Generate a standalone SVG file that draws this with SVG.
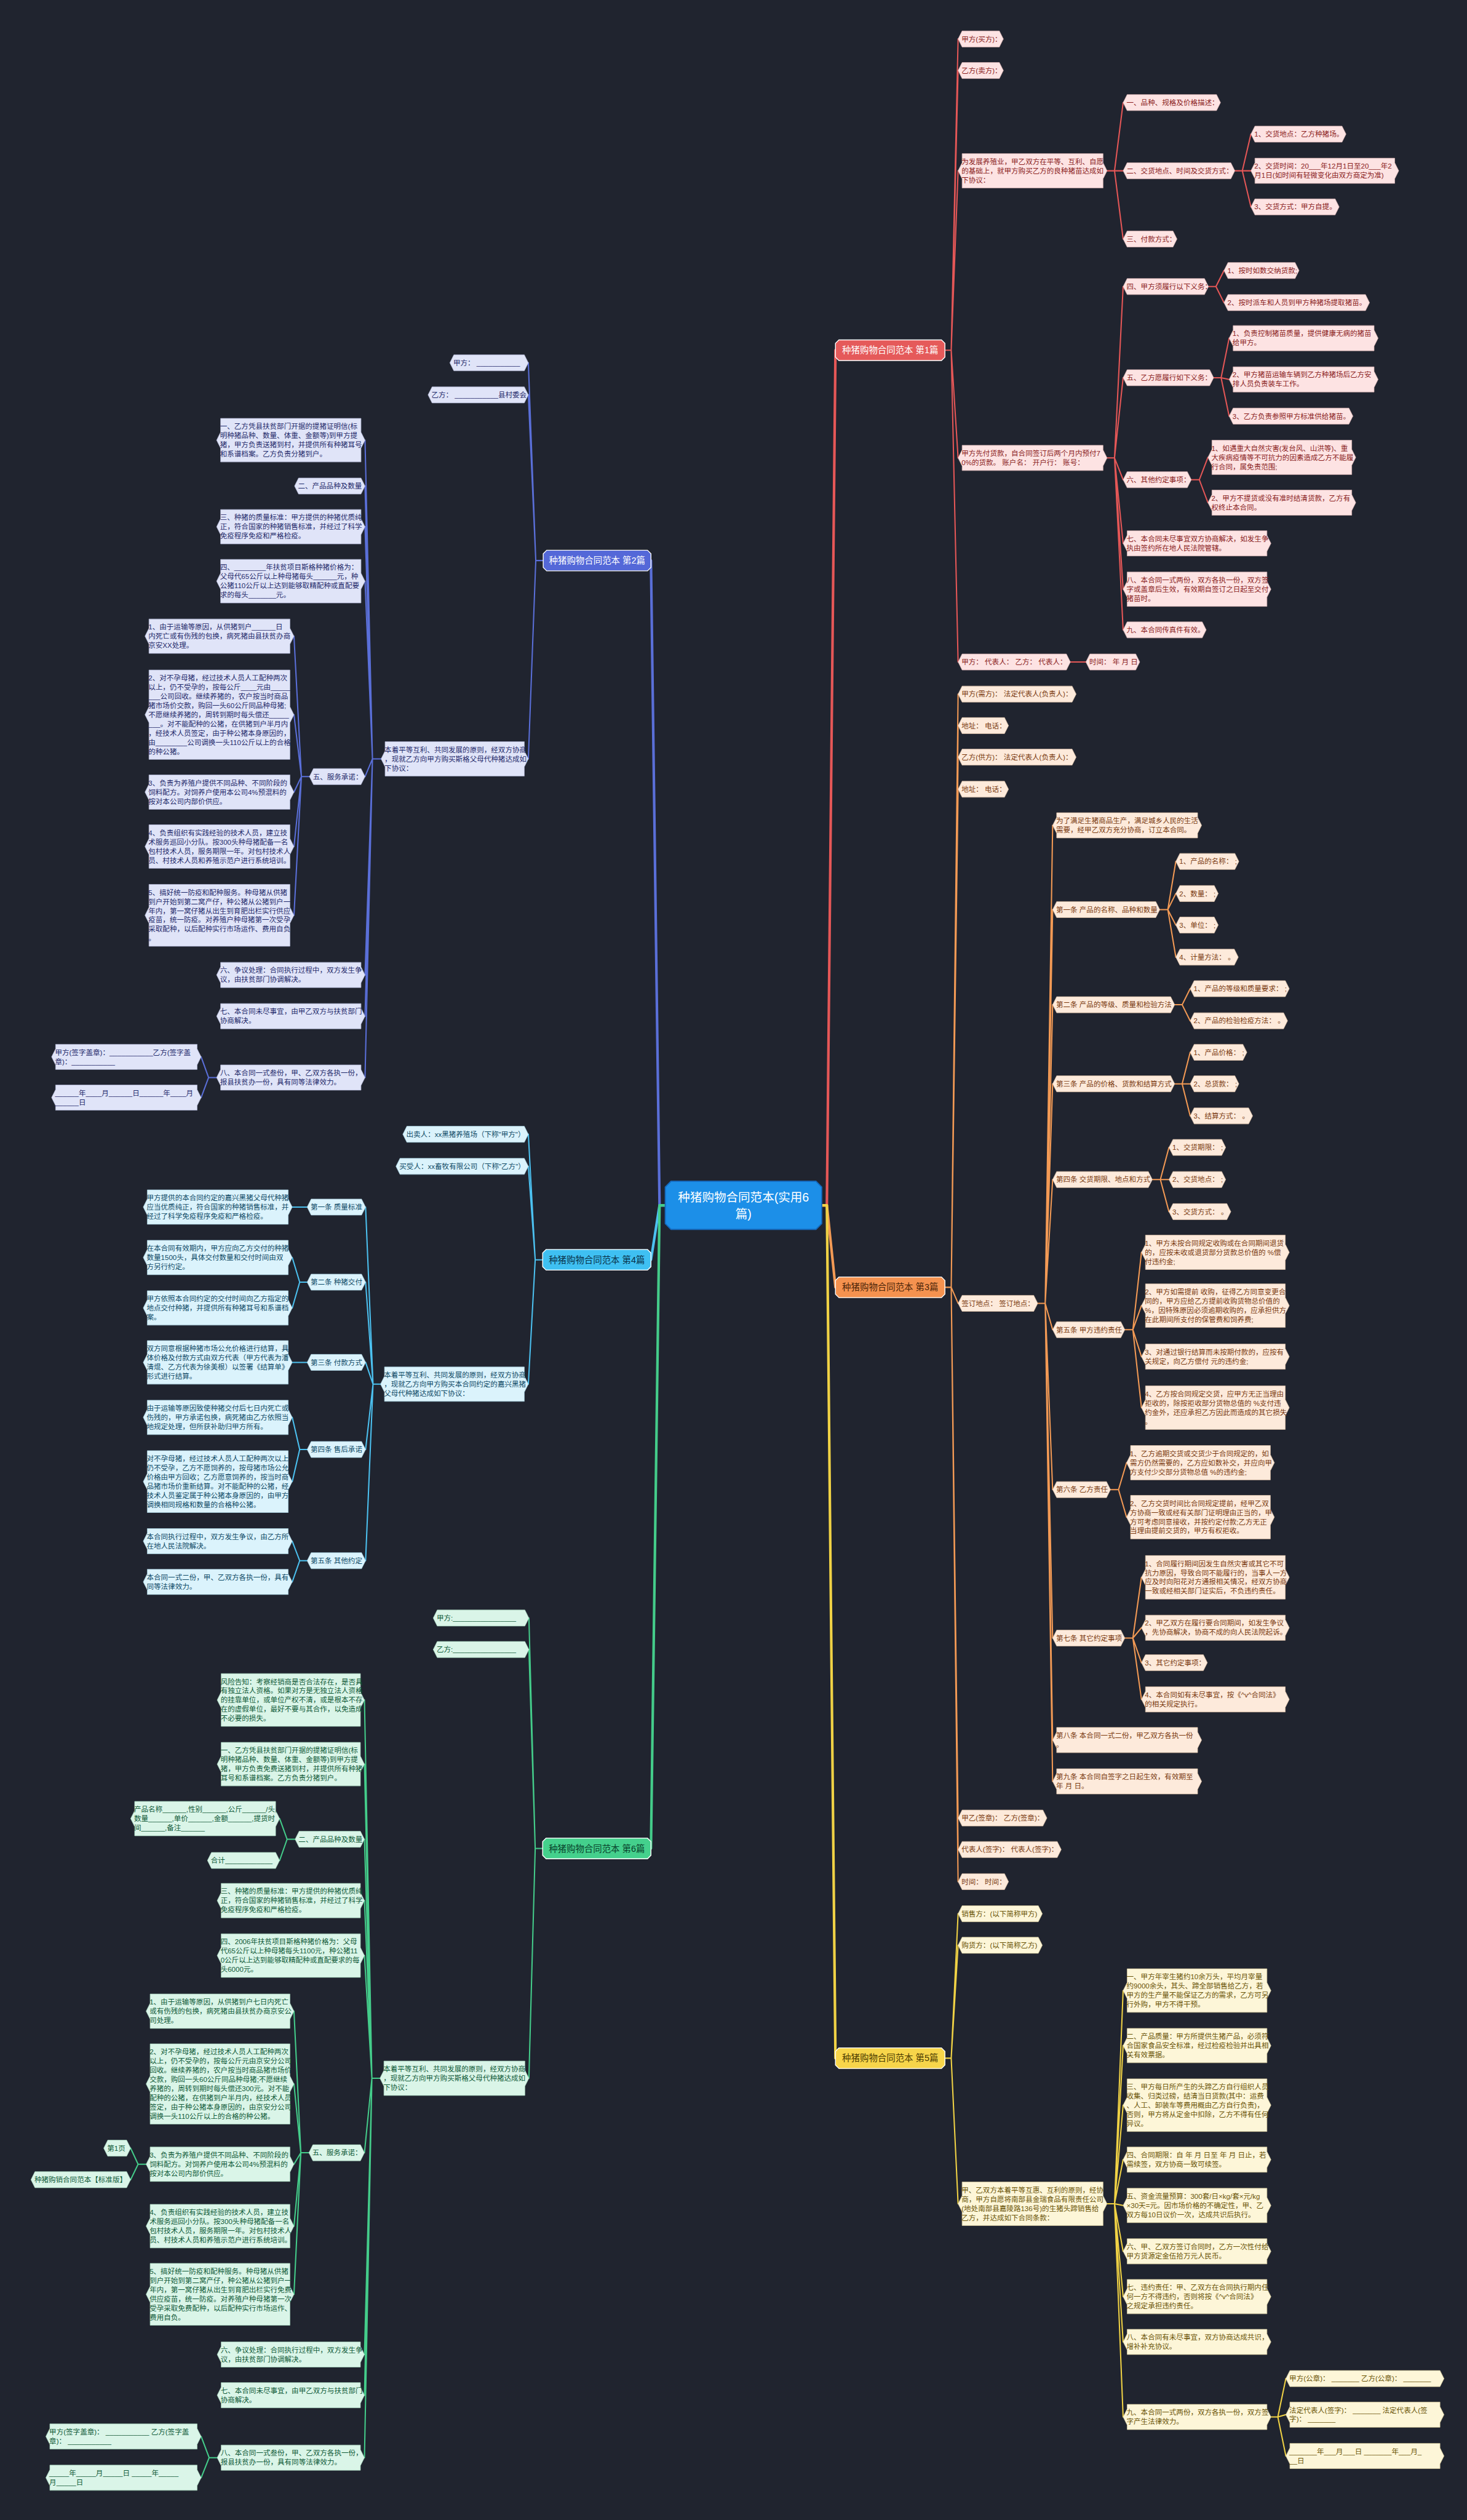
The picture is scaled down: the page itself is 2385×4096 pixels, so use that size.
<svg xmlns="http://www.w3.org/2000/svg" width="2385" height="4096" viewBox="0 0 2385 4096">
<style>
text{font-family:'Liberation Sans','Noto Sans CJK SC',sans-serif;font-size:12.4px}
.nd polygon{stroke-width:0.8}
.r polygon{fill:#fde3e3;stroke:#d9b3b3}.r text{fill:#8b1c1c}
.o polygon{fill:#fdeadb;stroke:#dcbfa6}.o text{fill:#7a3a10}
.y polygon{fill:#fdf6d8;stroke:#d8cc9c}.y text{fill:#6a5406}
.p polygon{fill:#e0e4f8;stroke:#b3b9d8}.p text{fill:#1f2a6b}
.b polygon{fill:#dbf3fc;stroke:#a9d2e2}.b text{fill:#0e4a66}
.g polygon{fill:#daf5e8;stroke:#a8d8c0}.g text{fill:#0f5a38}
.rt polygon{stroke:#ffffff;stroke-width:1.5}
.rt text{font-size:15.5px;text-anchor:middle}
.c{fill:none;stroke-width:2.2;stroke-linejoin:round;stroke-linecap:round}
.tr{stroke-width:4.5}
.cr{stroke:#e55757}.co{stroke:#f39a55}.cy{stroke:#f0d245}.cp{stroke:#5a6fd8}.cb{stroke:#4cc1f0}.cg{stroke:#44cc8a}
</style>
<rect width="2385" height="4096" fill="#20242f"/>
<g transform="scale(0.9316)">
<g id="connectors">
<path class="c cr tr" d="M1434,2103H1443L1458,611"/>
<path class="c co tr" d="M1434,2103H1443L1458,2246"/>
<path class="c cy tr" d="M1434,2103H1443L1458,3591"/>
<path class="c cp tr" d="M1161,2103H1151L1136,978"/>
<path class="c cb tr" d="M1161,2103H1151L1136,2198"/>
<path class="c cg tr" d="M1161,2103H1151L1136,3225"/>
<path class="c cr" d="M1649,611H1660L1672,68M1660,611L1672,123M1660,611L1672,298M1660,611L1672,799M1660,611L1672,1155M1932,298H1945L1960,179M1945,298L1960,298M1945,298L1960,417M2155,298H2168L2183,234M2168,298L2183,298M2168,298L2183,361M1932,799H1945L1960,500M1945,799L1960,659M1945,799L1960,837M1945,799L1960,948M1945,799L1960,1028M1945,799L1960,1099M2109,500H2122L2136,472M2122,500L2136,528M2118,659H2131L2145,590M2131,659L2145,662M2131,659L2145,726M2079,837H2093L2108,798M2093,837L2108,877M1868,1155H1895"/>
<path class="c co" d="M1649,2246H1660L1672,1211M1660,2246L1672,1266M1660,2246L1672,1321M1660,2246L1672,1377M1660,2246L1672,2274M1660,2246L1672,3172M1660,2246L1672,3227M1660,2246L1672,3283M1811,2274H1824L1837,1440M1824,2274L1837,1587M1824,2274L1837,1753M1824,2274L1837,1891M1824,2274L1837,2058M1824,2274L1837,2320M1824,2274L1837,2599M1824,2274L1837,2858M1824,2274L1837,3036M1824,2274L1837,3108M2024,1587H2038L2052,1503M2038,1587L2052,1559M2038,1587L2052,1614M2038,1587L2052,1670M2050,1753H2063L2077,1725M2063,1753L2077,1781M2050,1891H2063L2077,1836M2063,1891L2077,1891M2063,1891L2077,1947M2011,2058H2025L2040,2002M2025,2058L2040,2058M2025,2058L2040,2114M1963,2320H1977L1992,2185M1977,2320L1992,2278M1977,2320L1992,2367M1977,2320L1992,2456M1938,2599H1952L1966,2552M1952,2599L1966,2647M1963,2858H1977L1992,2752M1977,2858L1992,2840M1977,2858L1992,2901M1977,2858L1992,2965"/>
<path class="c cy" d="M1649,3591H1660L1672,3339M1660,3591L1672,3394M1660,3591L1672,3845M1932,3845H1945L1960,3473M1945,3845L1960,3569M1945,3845L1960,3673M1945,3845L1960,3768M1945,3845L1960,3848M1945,3845L1960,3928M1945,3845L1960,4007M1945,3845L1960,4086M1945,3845L1960,4217M2218,4217H2230L2244,4150M2230,4217L2244,4213M2230,4217L2244,4285"/>
<path class="c cp" d="M948,978H935L922,633M935,978L922,689M935,978L922,1324M665,1324H650L637,768M650,1324L637,848M650,1324L637,919M650,1324L637,1014M650,1324L637,1355M650,1324L637,1701M650,1324L637,1773M650,1324L637,1880M540,1355H526L513,1110M526,1355L513,1247M526,1355L513,1382M526,1355L513,1477M526,1355L513,1597M378,1880H364L351,1844M364,1880L351,1915"/>
<path class="c cb" d="M947,2198H934L922,1979M934,2198L922,2035M934,2198L922,2415M664,2415H651L638,2106M651,2415L638,2237M651,2415L638,2377M651,2415L638,2529M651,2415L638,2723M536,2106H510M536,2237H523L510,2194M523,2237L510,2282M536,2377H510M536,2529H523L510,2473M523,2529L510,2585M536,2723H523L510,2689M523,2723L510,2760"/>
<path class="c cg" d="M947,3225H934L923,2823M934,3225L923,2878M934,3225L923,3626M663,3626H649L636,2966M649,3626L636,3078M649,3626L636,3209M649,3626L636,3316M649,3626L636,3412M649,3626L636,3756M649,3626L636,4108M649,3626L636,4179M649,3626L636,4288M515,3209H501L488,3173M501,3209L488,3246M539,3756H525L513,3509M525,3756L513,3636M525,3756L513,3776M525,3756L513,3884M525,3756L513,4003M255,3776H241L228,3748M241,3776L228,3803M379,4288H365L351,4251M365,4288L351,4323"/>
</g>

<g id="center">
<polygon points="1171,2061 1424,2061 1434,2071 1434,2135 1424,2145 1171,2145 1161,2135 1161,2071" fill="#1c8fe8" stroke="#1569bd" stroke-width="2"/>
<text x="1297.5" y="2096" font-size="21" fill="#ffffff" text-anchor="middle" style="font-size:21px">种猪购物合同范本(实用6<tspan x="1297.5" dy="29">篇)</tspan></text>
</g>

<!-- Branch 1 -->
<g id="root1" class="rt"><polygon points="1464,593 1643,593 1649,599 1649,623 1643,629 1464,629 1458,623 1458,599" fill="#e55a5a"/><text x="1553.5" y="616.5" fill="#ffffff">种猪购物合同范本 第1篇</text></g>
<g id="r1" class="nd r"><polygon points="1679,54 1744,54 1751,68 1744,82 1679,82 1672,68"/><text x="1678" y="72.5">甲方(买方)：</text></g>
<g id="r2" class="nd r"><polygon points="1679,109 1744,109 1751,123 1744,137 1679,137 1672,123"/><text x="1678" y="127.5">乙方(卖方)：</text></g>
<g id="r3" class="nd r"><polygon points="1679,268 1925,268 1925,284 1932,298 1925,312 1925,328 1679,328 1679,312 1672,298 1679,284"/><text x="1678" y="286.5">为发展养殖业，甲乙双方在平等、互利、自愿<tspan x="1678" dy="16">的基础上，就甲方购买乙方的良种猪苗达成如</tspan><tspan x="1678" dy="16">下协议：</tspan></text></g>
<g id="r4" class="nd r"><polygon points="1679,777 1925,777 1925,785 1932,799 1925,813 1925,821 1679,821 1679,813 1672,799 1679,785"/><text x="1678" y="795.5">甲方先付货款，自合同签订后两个月内预付7<tspan x="1678" dy="16">0%的货款。 账户名： 开户行： 账号：</tspan></text></g>
<g id="r5" class="nd r"><polygon points="1679,1141 1861,1141 1868,1155 1861,1169 1679,1169 1672,1155"/><text x="1678" y="1159.5">甲方： 代表人： 乙方： 代表人：</text></g>
<g id="r5a" class="nd r"><polygon points="1902,1141 1982,1141 1989,1155 1982,1169 1902,1169 1895,1155"/><text x="1901" y="1159.5">时间： 年 月 日</text></g>
<g id="r3a" class="nd r"><polygon points="1967,165 2123,165 2130,179 2123,193 1967,193 1960,179"/><text x="1966" y="183.5">一、品种、规格及价格描述：</text></g>
<g id="r3b" class="nd r"><polygon points="1967,284 2148,284 2155,298 2148,312 1967,312 1960,298"/><text x="1966" y="302.5">二、交货地点、时间及交货方式：</text></g>
<g id="r3c" class="nd r"><polygon points="1967,403 2047,403 2054,417 2047,431 1967,431 1960,417"/><text x="1966" y="421.5">三、付款方式：</text></g>
<g id="r3b1" class="nd r"><polygon points="2190,220 2342,220 2349,234 2342,248 2190,248 2183,234"/><text x="2189" y="238.5">1、交货地点：乙方种猪场。</text></g>
<g id="r3b2" class="nd r"><polygon points="2190,276 2434,276 2434,284 2441,298 2434,312 2434,320 2190,320 2190,312 2183,298 2190,284"/><text x="2189" y="294.5">2、交货时间：20___年12月1日至20___年2<tspan x="2189" dy="16">月1日(如时间有轻微变化由双方商定为准)</tspan></text></g>
<g id="r3b3" class="nd r"><polygon points="2190,347 2330,347 2337,361 2330,375 2190,375 2183,361"/><text x="2189" y="365.5">3、交货方式：甲方自提。</text></g>
<g id="r4a" class="nd r"><polygon points="1967,486 2102,486 2109,500 2102,514 1967,514 1960,500"/><text x="1966" y="504.5">四、甲方须履行以下义务：</text></g>
<g id="r4b" class="nd r"><polygon points="1967,645 2111,645 2118,659 2111,673 1967,673 1960,659"/><text x="1966" y="663.5">五、乙方愿履行如下义务：</text></g>
<g id="r4c" class="nd r"><polygon points="1967,823 2072,823 2079,837 2072,851 1967,851 1960,837"/><text x="1966" y="841.5">六、其他约定事项：</text></g>
<g id="r4d" class="nd r"><polygon points="1967,926 2211,926 2211,934 2218,948 2211,962 2211,970 1967,970 1967,962 1960,948 1967,934"/><text x="1966" y="944.5">七、本合同未尽事宜双方协商解决，如发生争<tspan x="1966" dy="16">执由签约所在地人民法院管辖。</tspan></text></g>
<g id="r4e" class="nd r"><polygon points="1967,998 2211,998 2211,1014 2218,1028 2211,1042 2211,1058 1967,1058 1967,1042 1960,1028 1967,1014"/><text x="1966" y="1016.5">八、本合同一式两份，双方各执一份，双方签<tspan x="1966" dy="16">字或盖章后生效，有效期自签订之日起至交付</tspan><tspan x="1966" dy="16">猪苗时。</tspan></text></g>
<g id="r4f" class="nd r"><polygon points="1967,1085 2098,1085 2105,1099 2098,1113 1967,1113 1960,1099"/><text x="1966" y="1103.5">九、本合同传真件有效。</text></g>
<g id="r4a1" class="nd r"><polygon points="2143,458 2260,458 2267,472 2260,486 2143,486 2136,472"/><text x="2142" y="476.5">1、按时如数交纳货款;</text></g>
<g id="r4a2" class="nd r"><polygon points="2143,514 2383,514 2390,528 2383,542 2143,542 2136,528"/><text x="2142" y="532.5">2、按时派车和人员到甲方种猪场提取猪苗。</text></g>
<g id="r4b1" class="nd r"><polygon points="2152,568 2398,568 2398,576 2405,590 2398,604 2398,612 2152,612 2152,604 2145,590 2152,576"/><text x="2151" y="586.5">1、负责控制猪苗质量，提供健康无病的猪苗<tspan x="2151" dy="16">给甲方。</tspan></text></g>
<g id="r4b2" class="nd r"><polygon points="2152,640 2398,640 2398,648 2405,662 2398,676 2398,684 2152,684 2152,676 2145,662 2152,648"/><text x="2151" y="658.5">2、甲方猪苗运输车辆到乙方种猪场后乙方安<tspan x="2151" dy="16">排人员负责装车工作。</tspan></text></g>
<g id="r4b3" class="nd r"><polygon points="2152,712 2354,712 2361,726 2354,740 2152,740 2145,726"/><text x="2151" y="730.5">3、乙方负责参照甲方标准供给猪苗。</text></g>
<g id="r4c1" class="nd r"><polygon points="2115,768 2359,768 2359,784 2366,798 2359,812 2359,828 2115,828 2115,812 2108,798 2115,784"/><text x="2114" y="786.5">1、如遇重大自然灾害(发台风、山洪等)、重<tspan x="2114" dy="16">大疾病疫情等不可抗力的因素造成乙方不能履</tspan><tspan x="2114" dy="16">行合同，属免责范围;</tspan></text></g>
<g id="r4c2" class="nd r"><polygon points="2115,855 2359,855 2359,863 2366,877 2359,891 2359,899 2115,899 2115,891 2108,877 2115,863"/><text x="2114" y="873.5">2、甲方不提货或没有准时结清货款，乙方有<tspan x="2114" dy="16">权终止本合同。</tspan></text></g>

<!-- Branch 3 -->
<g id="root3" class="rt"><polygon points="1464,2228 1643,2228 1649,2234 1649,2258 1643,2264 1464,2264 1458,2258 1458,2234" fill="#f5924f"/><text x="1553.5" y="2251.5" fill="#4a2408">种猪购物合同范本 第3篇</text></g>
<g id="o1" class="nd o"><polygon points="1679,1197 1871,1197 1878,1211 1871,1225 1679,1225 1672,1211"/><text x="1678" y="1215.5">甲方(需方)： 法定代表人(负责人)：</text></g>
<g id="o2" class="nd o"><polygon points="1679,1252 1753,1252 1760,1266 1753,1280 1679,1280 1672,1266"/><text x="1678" y="1270.5">地址： 电话：</text></g>
<g id="o3" class="nd o"><polygon points="1679,1307 1871,1307 1878,1321 1871,1335 1679,1335 1672,1321"/><text x="1678" y="1325.5">乙方(供方)： 法定代表人(负责人)：</text></g>
<g id="o4" class="nd o"><polygon points="1679,1363 1753,1363 1760,1377 1753,1391 1679,1391 1672,1377"/><text x="1678" y="1381.5">地址： 电话：</text></g>
<g id="o5" class="nd o"><polygon points="1679,2260 1804,2260 1811,2274 1804,2288 1679,2288 1672,2274"/><text x="1678" y="2278.5">签订地点： 签订地点：</text></g>
<g id="o6" class="nd o"><polygon points="1679,3158 1820,3158 1827,3172 1820,3186 1679,3186 1672,3172"/><text x="1678" y="3176.5">甲乙(签章)： 乙方(签章)：</text></g>
<g id="o7" class="nd o"><polygon points="1679,3213 1845,3213 1852,3227 1845,3241 1679,3241 1672,3227"/><text x="1678" y="3231.5">代表人(签字)： 代表人(签字)：</text></g>
<g id="o8" class="nd o"><polygon points="1679,3269 1753,3269 1760,3283 1753,3297 1679,3297 1672,3283"/><text x="1678" y="3287.5">时间： 时间：</text></g>
<g id="o5a" class="nd o"><polygon points="1844,1418 2090,1418 2090,1426 2097,1440 2090,1454 2090,1462 1844,1462 1844,1454 1837,1440 1844,1426"/><text x="1843" y="1436.5">为了满足生猪商品生产，满足城乡人民的生活<tspan x="1843" dy="16">需要，经甲乙双方充分协商，订立本合同。</tspan></text></g>
<g id="o5b" class="nd o"><polygon points="1844,1573 2017,1573 2024,1587 2017,1601 1844,1601 1837,1587"/><text x="1843" y="1591.5">第一条 产品的名称、品种和数量</text></g>
<g id="o5c" class="nd o"><polygon points="1844,1739 2043,1739 2050,1753 2043,1767 1844,1767 1837,1753"/><text x="1843" y="1757.5">第二条 产品的等级、质量和检验方法</text></g>
<g id="o5d" class="nd o"><polygon points="1844,1877 2043,1877 2050,1891 2043,1905 1844,1905 1837,1891"/><text x="1843" y="1895.5">第三条 产品的价格、货款和结算方式</text></g>
<g id="o5e" class="nd o"><polygon points="1844,2044 2004,2044 2011,2058 2004,2072 1844,2072 1837,2058"/><text x="1843" y="2062.5">第四条 交货期限、地点和方式</text></g>
<g id="o5f" class="nd o"><polygon points="1844,2306 1956,2306 1963,2320 1956,2334 1844,2334 1837,2320"/><text x="1843" y="2324.5">第五条 甲方违约责任</text></g>
<g id="o5g" class="nd o"><polygon points="1844,2585 1931,2585 1938,2599 1931,2613 1844,2613 1837,2599"/><text x="1843" y="2603.5">第六条 乙方责任</text></g>
<g id="o5h" class="nd o"><polygon points="1844,2844 1956,2844 1963,2858 1956,2872 1844,2872 1837,2858"/><text x="1843" y="2862.5">第七条 其它约定事项</text></g>
<g id="o5i" class="nd o"><polygon points="1844,3014 2090,3014 2090,3022 2097,3036 2090,3050 2090,3058 1844,3058 1844,3050 1837,3036 1844,3022"/><text x="1843" y="3032.5">第八条 本合同一式二份，甲乙双方各执一份<tspan x="1843" dy="16">。</tspan></text></g>
<g id="o5j" class="nd o"><polygon points="1844,3086 2090,3086 2090,3094 2097,3108 2090,3122 2090,3130 1844,3130 1844,3122 1837,3108 1844,3094"/><text x="1843" y="3104.5">第九条 本合同自签字之日起生效，有效期至<tspan x="1843" dy="16">年 月 日。</tspan></text></g>
<g id="o5b1" class="nd o"><polygon points="2059,1489 2155,1489 2162,1503 2155,1517 2059,1517 2052,1503"/><text x="2058" y="1507.5">1、产品的名称： ;</text></g>
<g id="o5b2" class="nd o"><polygon points="2059,1545 2119,1545 2126,1559 2119,1573 2059,1573 2052,1559"/><text x="2058" y="1563.5">2、数量： ;</text></g>
<g id="o5b3" class="nd o"><polygon points="2059,1600 2119,1600 2126,1614 2119,1628 2059,1628 2052,1614"/><text x="2058" y="1618.5">3、单位： ;</text></g>
<g id="o5b4" class="nd o"><polygon points="2059,1656 2154,1656 2161,1670 2154,1684 2059,1684 2052,1670"/><text x="2058" y="1674.5">4、计量方法： 。</text></g>
<g id="o5c1" class="nd o"><polygon points="2084,1711 2243,1711 2250,1725 2243,1739 2084,1739 2077,1725"/><text x="2083" y="1729.5">1、产品的等级和质量要求： ;</text></g>
<g id="o5c2" class="nd o"><polygon points="2084,1767 2240,1767 2247,1781 2240,1795 2084,1795 2077,1781"/><text x="2083" y="1785.5">2、产品的检验检疫方法： 。</text></g>
<g id="o5d1" class="nd o"><polygon points="2084,1822 2169,1822 2176,1836 2169,1850 2084,1850 2077,1836"/><text x="2083" y="1840.5">1、产品价格： ;</text></g>
<g id="o5d2" class="nd o"><polygon points="2084,1877 2155,1877 2162,1891 2155,1905 2084,1905 2077,1891"/><text x="2083" y="1895.5">2、总货款： ;</text></g>
<g id="o5d3" class="nd o"><polygon points="2084,1933 2179,1933 2186,1947 2179,1961 2084,1961 2077,1947"/><text x="2083" y="1951.5">3、结算方式： 。</text></g>
<g id="o5e1" class="nd o"><polygon points="2047,1988 2132,1988 2139,2002 2132,2016 2047,2016 2040,2002"/><text x="2046" y="2006.5">1、交货期限： ;</text></g>
<g id="o5e2" class="nd o"><polygon points="2047,2044 2132,2044 2139,2058 2132,2072 2047,2072 2040,2058"/><text x="2046" y="2062.5">2、交货地点： ;</text></g>
<g id="o5e3" class="nd o"><polygon points="2047,2100 2141,2100 2148,2114 2141,2128 2047,2128 2040,2114"/><text x="2046" y="2118.5">3、交货方式： 。</text></g>
<g id="o5f1" class="nd o"><polygon points="1999,2155 2243,2155 2243,2171 2250,2185 2243,2199 2243,2215 1999,2215 1999,2199 1992,2185 1999,2171"/><text x="1998" y="2173.5">1、甲方未按合同规定收购或在合同期间退货<tspan x="1998" dy="16">的，应按未收或退货部分货款总价值的 %偿</tspan><tspan x="1998" dy="16">付违约金;</tspan></text></g>
<g id="o5f2" class="nd o"><polygon points="1999,2240 2243,2240 2243,2264 2250,2278 2243,2292 2243,2316 1999,2316 1999,2292 1992,2278 1999,2264"/><text x="1998" y="2258.5">2、甲方如需提前 收购，征得乙方同意变更合<tspan x="1998" dy="16">同的，甲方应给乙方提前收购货物总价值的</tspan><tspan x="1998" dy="16">%，因特殊原因必须逾期收购的，应承担供方</tspan><tspan x="1998" dy="16">在此期间所支付的保管费和饲养费;</tspan></text></g>
<g id="o5f3" class="nd o"><polygon points="1999,2345 2243,2345 2243,2353 2250,2367 2243,2381 2243,2389 1999,2389 1999,2381 1992,2367 1999,2353"/><text x="1998" y="2363.5">3、对通过银行结算而未按期付款的，应按有<tspan x="1998" dy="16">关规定，向乙方偿付 元的违约金;</tspan></text></g>
<g id="o5f4" class="nd o"><polygon points="1999,2418 2243,2418 2243,2442 2250,2456 2243,2470 2243,2494 1999,2494 1999,2470 1992,2456 1999,2442"/><text x="1998" y="2436.5">4、乙方按合同规定交货，应甲方无正当理由<tspan x="1998" dy="16">拒收的，除按拒收部分货物总值的 %支付违</tspan><tspan x="1998" dy="16">约金外，还应承担乙方因此而造成的其它损失</tspan><tspan x="1998" dy="16">。</tspan></text></g>
<g id="o5g1" class="nd o"><polygon points="1973,2522 2217,2522 2217,2538 2224,2552 2217,2566 2217,2582 1973,2582 1973,2566 1966,2552 1973,2538"/><text x="1972" y="2540.5">1、乙方逾期交货或交货少于合同规定的，如<tspan x="1972" dy="16">需方仍然需要的，乙方应如数补交，并应向甲</tspan><tspan x="1972" dy="16">方支付少交部分货物总值 %的违约金;</tspan></text></g>
<g id="o5g2" class="nd o"><polygon points="1973,2609 2217,2609 2217,2633 2224,2647 2217,2661 2217,2685 1973,2685 1973,2661 1966,2647 1973,2633"/><text x="1972" y="2627.5">2、乙方交货时间比合同规定提前，经甲乙双<tspan x="1972" dy="16">方协商一致或经有关部门证明理由正当的，甲</tspan><tspan x="1972" dy="16">方可考虑同意接收，并按约定付款;乙方无正</tspan><tspan x="1972" dy="16">当理由提前交货的，甲方有权拒收。</tspan></text></g>
<g id="o5h1" class="nd o"><polygon points="1999,2714 2243,2714 2243,2738 2250,2752 2243,2766 2243,2790 1999,2790 1999,2766 1992,2752 1999,2738"/><text x="1998" y="2732.5">1、合同履行期间因发生自然灾害或其它不可<tspan x="1998" dy="16">抗力原因，导致合同不能履行的，当事人一方</tspan><tspan x="1998" dy="16">应及时向阳花对方通报相关情况，经双方协商</tspan><tspan x="1998" dy="16">一致或经相关部门证实后，不负违约责任。</tspan></text></g>
<g id="o5h2" class="nd o"><polygon points="1999,2818 2243,2818 2243,2826 2250,2840 2243,2854 2243,2862 1999,2862 1999,2854 1992,2840 1999,2826"/><text x="1998" y="2836.5">2、甲乙双方在履行要合同期间，如发生争议<tspan x="1998" dy="16">，先协商解决，协商不成的向人民法院起诉。</tspan></text></g>
<g id="o5h3" class="nd o"><polygon points="1999,2887 2100,2887 2107,2901 2100,2915 1999,2915 1992,2901"/><text x="1998" y="2905.5">3、其它约定事项：</text></g>
<g id="o5h4" class="nd o"><polygon points="1999,2943 2243,2943 2243,2951 2250,2965 2243,2979 2243,2987 1999,2987 1999,2979 1992,2965 1999,2951"/><text x="1998" y="2961.5">4、本合同如有未尽事宜，按《^v^合同法》<tspan x="1998" dy="16">的相关规定执行。</tspan></text></g>

<!-- Branch 5 -->
<g id="root5" class="rt"><polygon points="1464,3573 1643,3573 1649,3579 1649,3603 1643,3609 1464,3609 1458,3603 1458,3579" fill="#f7d54a"/><text x="1553.5" y="3596.5" fill="#4a3a00">种猪购物合同范本 第5篇</text></g>
<g id="y1" class="nd y"><polygon points="1679,3325 1812,3325 1819,3339 1812,3353 1679,3353 1672,3339"/><text x="1678" y="3343.5">销售方：(以下简称甲方)</text></g>
<g id="y2" class="nd y"><polygon points="1679,3380 1812,3380 1819,3394 1812,3408 1679,3408 1672,3394"/><text x="1678" y="3398.5">购货方：(以下简称乙方)</text></g>
<g id="y3" class="nd y"><polygon points="1679,3807 1925,3807 1925,3831 1932,3845 1925,3859 1925,3883 1679,3883 1679,3859 1672,3845 1679,3831"/><text x="1678" y="3825.5">甲、乙双方本着平等互惠、互利的原则，经协<tspan x="1678" dy="16">商，甲方自愿将南部县金瑞食品有限责任公司</tspan><tspan x="1678" dy="16">(地处南部县嘉陵路136号)的生猪头蹄销售给</tspan><tspan x="1678" dy="16">乙方，并达成如下合同条款：</tspan></text></g>
<g id="y3a" class="nd y"><polygon points="1967,3435 2211,3435 2211,3459 2218,3473 2211,3487 2211,3511 1967,3511 1967,3487 1960,3473 1967,3459"/><text x="1966" y="3453.5">一、甲方年宰生猪约10余万头，平均月宰量<tspan x="1966" dy="16">约9000余头，其头、蹄全部销售给乙方，若</tspan><tspan x="1966" dy="16">甲方的生产量不能保证乙方的需求，乙方可另</tspan><tspan x="1966" dy="16">行外购，甲方不得干预。</tspan></text></g>
<g id="y3b" class="nd y"><polygon points="1967,3539 2211,3539 2211,3555 2218,3569 2211,3583 2211,3599 1967,3599 1967,3583 1960,3569 1967,3555"/><text x="1966" y="3557.5">二、产品质量：甲方所提供生猪产品，必须符<tspan x="1966" dy="16">合国家食品安全标准，经过检疫检验并出具相</tspan><tspan x="1966" dy="16">关有效票据。</tspan></text></g>
<g id="y3c" class="nd y"><polygon points="1967,3627 2211,3627 2211,3659 2218,3673 2211,3687 2211,3719 1967,3719 1967,3687 1960,3673 1967,3659"/><text x="1966" y="3645.5">三、甲方每日所产生的头蹄乙方自行组织人员<tspan x="1966" dy="16">收集、归类过磅，结清当日货款(其中：运费</tspan><tspan x="1966" dy="16">、人工、卸装车等费用概由乙方自行负责)，</tspan><tspan x="1966" dy="16">否则，甲方将从定金中扣除，乙方不得有任何</tspan><tspan x="1966" dy="16">异议。</tspan></text></g>
<g id="y3d" class="nd y"><polygon points="1967,3746 2211,3746 2211,3754 2218,3768 2211,3782 2211,3790 1967,3790 1967,3782 1960,3768 1967,3754"/><text x="1966" y="3764.5">四、合同期限：自 年 月 日至 年 月 日止，若<tspan x="1966" dy="16">需续签，双方协商一致可续签。</tspan></text></g>
<g id="y3e" class="nd y"><polygon points="1967,3818 2211,3818 2211,3834 2218,3848 2211,3862 2211,3878 1967,3878 1967,3862 1960,3848 1967,3834"/><text x="1966" y="3836.5">五、资金流量预算：300套/日×kg/套×元/kg<tspan x="1966" dy="16">×30天=元。因市场价格的不确定性，甲、乙</tspan><tspan x="1966" dy="16">双方每10日议价一次，达成共识后执行。</tspan></text></g>
<g id="y3f" class="nd y"><polygon points="1967,3906 2211,3906 2211,3914 2218,3928 2211,3942 2211,3950 1967,3950 1967,3942 1960,3928 1967,3914"/><text x="1966" y="3924.5">六、甲、乙双方签订合同时，乙方一次性付给<tspan x="1966" dy="16">甲方货源定金伍拾万元人民币。</tspan></text></g>
<g id="y3g" class="nd y"><polygon points="1967,3977 2211,3977 2211,3993 2218,4007 2211,4021 2211,4037 1967,4037 1967,4021 1960,4007 1967,3993"/><text x="1966" y="3995.5">七、违约责任：甲、乙双方在合同执行期内任<tspan x="1966" dy="16">何一方不得违约，否则将按《^v^合同法》</tspan><tspan x="1966" dy="16">之规定承担违约责任。</tspan></text></g>
<g id="y3h" class="nd y"><polygon points="1967,4064 2211,4064 2211,4072 2218,4086 2211,4100 2211,4108 1967,4108 1967,4100 1960,4086 1967,4072"/><text x="1966" y="4082.5">八、本合同有未尽事宜，双方协商达成共识，<tspan x="1966" dy="16">增补补充协议。</tspan></text></g>
<g id="y3i" class="nd y"><polygon points="1967,4195 2211,4195 2211,4203 2218,4217 2211,4231 2211,4239 1967,4239 1967,4231 1960,4217 1967,4203"/><text x="1966" y="4213.5">九、本合同一式两份，双方各执一份，双方签<tspan x="1966" dy="16">字产生法律效力。</tspan></text></g>
<g id="y3i1" class="nd y"><polygon points="2251,4136 2513,4136 2520,4150 2513,4164 2251,4164 2244,4150"/><text x="2250" y="4154.5">甲方(公章)： _______ 乙方(公章)： _______</text></g>
<g id="y3i2" class="nd y"><polygon points="2251,4191 2513,4191 2513,4199 2520,4213 2513,4227 2513,4235 2251,4235 2251,4227 2244,4213 2251,4199"/><text x="2250" y="4209.5">法定代表人(签字)： _______ 法定代表人(签<tspan x="2250" dy="16">字)： _______</tspan></text></g>
<g id="y3i3" class="nd y"><polygon points="2251,4263 2513,4263 2513,4271 2520,4285 2513,4299 2513,4307 2251,4307 2251,4299 2244,4285 2251,4271"/><text x="2250" y="4281.5">_______年___月___日 _______年___月_<tspan x="2250" dy="16">__日</tspan></text></g>

<!-- Branch 2 -->
<g id="root2" class="rt"><polygon points="954,960 1130,960 1136,966 1136,990 1130,996 954,996 948,990 948,966" fill="#5468d8"/><text x="1042" y="983.5" fill="#ffffff">种猪购物合同范本 第2篇</text></g>
<g id="p1" class="nd p"><polygon points="792,619 915,619 922,633 915,647 792,647 785,633"/><text x="791" y="637.5">甲方： ___________</text></g>
<g id="p2" class="nd p"><polygon points="754,675 915,675 922,689 915,703 754,703 747,689"/><text x="753" y="693.5">乙方： ___________县村委会</text></g>
<g id="p3" class="nd p"><polygon points="672,1294 915,1294 915,1310 922,1324 915,1338 915,1354 672,1354 672,1338 665,1324 672,1310"/><text x="671" y="1312.5">本着平等互利、共同发展的原则，经双方协商<tspan x="671" dy="16">，现就乙方向甲方购买斯格父母代种猪达成如</tspan><tspan x="671" dy="16">下协议：</tspan></text></g>
<g id="p3a" class="nd p"><polygon points="385,730 630,730 630,754 637,768 630,782 630,806 385,806 385,782 378,768 385,754"/><text x="384" y="748.5">一、乙方凭县扶贫部门开据的提猪证明信(标<tspan x="384" dy="16">明种猪品种、数量、体重、金额等)到甲方提</tspan><tspan x="384" dy="16">猪，甲方负责送猪到村，并提供所有种猪耳号</tspan><tspan x="384" dy="16">和系谱档案。乙方负责分猪到户。</tspan></text></g>
<g id="p3b" class="nd p"><polygon points="521,834 630,834 637,848 630,862 521,862 514,848"/><text x="520" y="852.5">二、产品品种及数量</text></g>
<g id="p3c" class="nd p"><polygon points="385,889 630,889 630,905 637,919 630,933 630,949 385,949 385,933 378,919 385,905"/><text x="384" y="907.5">三、种猪的质量标准：甲方提供的种猪优质纯<tspan x="384" dy="16">正，符合国家的种猪销售标准，并经过了科学</tspan><tspan x="384" dy="16">免疫程序免疫和严格检疫。</tspan></text></g>
<g id="p3d" class="nd p"><polygon points="385,976 630,976 630,1000 637,1014 630,1028 630,1052 385,1052 385,1028 378,1014 385,1000"/><text x="384" y="994.5">四、________年扶贫项目斯格种猪价格为：<tspan x="384" dy="16">父母代65公斤以上种母猪每头______元，种</tspan><tspan x="384" dy="16">公猪110公斤以上达到能够取精配种或直配要</tspan><tspan x="384" dy="16">求的每头_______元。</tspan></text></g>
<g id="p3e" class="nd p"><polygon points="547,1341 630,1341 637,1355 630,1369 547,1369 540,1355"/><text x="546" y="1359.5">五、服务承诺：</text></g>
<g id="p3f" class="nd p"><polygon points="385,1679 630,1679 630,1687 637,1701 630,1715 630,1723 385,1723 385,1715 378,1701 385,1687"/><text x="384" y="1697.5">六、争议处理：合同执行过程中，双方发生争<tspan x="384" dy="16">议，由扶贫部门协调解决。</tspan></text></g>
<g id="p3g" class="nd p"><polygon points="385,1751 630,1751 630,1759 637,1773 630,1787 630,1795 385,1795 385,1787 378,1773 385,1759"/><text x="384" y="1769.5">七、本合同未尽事宜，由甲乙双方与扶贫部门<tspan x="384" dy="16">协商解决。</tspan></text></g>
<g id="p3h" class="nd p"><polygon points="385,1858 630,1858 630,1866 637,1880 630,1894 630,1902 385,1902 385,1894 378,1880 385,1866"/><text x="384" y="1876.5">八、本合同一式叁份，甲、乙双方各执一份，<tspan x="384" dy="16">报县扶贫办一份，具有同等法律效力。</tspan></text></g>
<g id="p3e1" class="nd p"><polygon points="260,1080 506,1080 506,1096 513,1110 506,1124 506,1140 260,1140 260,1124 253,1110 260,1096"/><text x="259" y="1098.5">1、由于运输等原因，从供猪到户______日<tspan x="259" dy="16">内死亡或有伤残的包换，病死猪由县扶贫办商</tspan><tspan x="259" dy="16">京安XX处理。</tspan></text></g>
<g id="p3e2" class="nd p"><polygon points="260,1169 506,1169 506,1233 513,1247 506,1261 506,1325 260,1325 260,1261 253,1247 260,1233"/><text x="259" y="1187.5">2、对不孕母猪，经过技术人员人工配种两次<tspan x="259" dy="16">以上，仍不受孕的，按每公斤____元由_____</tspan><tspan x="259" dy="16">___公司回收。继续养猪的，农户按当时商品</tspan><tspan x="259" dy="16">猪市场价交款，购回一头60公斤同品种母猪;</tspan><tspan x="259" dy="16">不愿继续养猪的，周转到期时每头偿还_____</tspan><tspan x="259" dy="16">___。对不能配种的公猪，在供猪到户半月内</tspan><tspan x="259" dy="16">，经技术人员签定，由于种公猪本身原因的，</tspan><tspan x="259" dy="16">由________公司调换一头110公斤以上的合格</tspan><tspan x="259" dy="16">的种公猪。</tspan></text></g>
<g id="p3e3" class="nd p"><polygon points="260,1352 506,1352 506,1368 513,1382 506,1396 506,1412 260,1412 260,1396 253,1382 260,1368"/><text x="259" y="1370.5">3、负责为养殖户提供不同品种、不同阶段的<tspan x="259" dy="16">饲料配方。对饲养户使用本公司4%预混料的</tspan><tspan x="259" dy="16">按对本公司内部价供应。</tspan></text></g>
<g id="p3e4" class="nd p"><polygon points="260,1439 506,1439 506,1463 513,1477 506,1491 506,1515 260,1515 260,1491 253,1477 260,1463"/><text x="259" y="1457.5">4、负责组织有实践经验的技术人员，建立技<tspan x="259" dy="16">术服务巡回小分队。按300头种母猪配备一名</tspan><tspan x="259" dy="16">包村技术人员，服务期限一年。对包村技术人</tspan><tspan x="259" dy="16">员、村技术人员和养殖示范户进行系统培训。</tspan></text></g>
<g id="p3e5" class="nd p"><polygon points="260,1543 506,1543 506,1583 513,1597 506,1611 506,1651 260,1651 260,1611 253,1597 260,1583"/><text x="259" y="1561.5">5、搞好统一防疫和配种服务。种母猪从供猪<tspan x="259" dy="16">到户开始到第二窝产仔，种公猪从公猪到户一</tspan><tspan x="259" dy="16">年内，第一窝仔猪从出生到育肥出栏实行供应</tspan><tspan x="259" dy="16">疫苗，统一防疫。对养殖户种母猪第一次受孕</tspan><tspan x="259" dy="16">采取配种，以后配种实行市场运作、费用自负</tspan><tspan x="259" dy="16">。</tspan></text></g>
<g id="p3h1" class="nd p"><polygon points="97,1822 344,1822 344,1830 351,1844 344,1858 344,1866 97,1866 97,1858 90,1844 97,1830"/><text x="96" y="1840.5">甲方(签字盖章)：___________乙方(签字盖<tspan x="96" dy="16">章)：___________</tspan></text></g>
<g id="p3h2" class="nd p"><polygon points="97,1893 344,1893 344,1901 351,1915 344,1929 344,1937 97,1937 97,1929 90,1915 97,1901"/><text x="96" y="1911.5">______年____月______日______年____月<tspan x="96" dy="16">______日</tspan></text></g>

<!-- Branch 4 -->
<g id="root4" class="rt"><polygon points="953,2180 1130,2180 1136,2186 1136,2210 1130,2216 953,2216 947,2210 947,2186" fill="#3fc0f2"/><text x="1041.5" y="2203.5" fill="#083048">种猪购物合同范本 第4篇</text></g>
<g id="b1" class="nd b"><polygon points="710,1965 915,1965 922,1979 915,1993 710,1993 703,1979"/><text x="709" y="1983.5">出卖人：xx黑猪养殖场（下称"甲方"）</text></g>
<g id="b2" class="nd b"><polygon points="698,2021 915,2021 922,2035 915,2049 698,2049 691,2035"/><text x="697" y="2039.5">买受人：xx畜牧有限公司（下称"乙方"）</text></g>
<g id="b3" class="nd b"><polygon points="671,2385 915,2385 915,2401 922,2415 915,2429 915,2445 671,2445 671,2429 664,2415 671,2401"/><text x="670" y="2403.5">本着平等互利、共同发展的原则，经双方协商<tspan x="670" dy="16">，现就乙方向甲方购买本合同约定的嘉兴黑猪</tspan><tspan x="670" dy="16">父母代种猪达成如下协议：</tspan></text></g>
<g id="b3a" class="nd b"><polygon points="543,2092 631,2092 638,2106 631,2120 543,2120 536,2106"/><text x="542" y="2110.5">第一条 质量标准</text></g>
<g id="b3b" class="nd b"><polygon points="543,2223 631,2223 638,2237 631,2251 543,2251 536,2237"/><text x="542" y="2241.5">第二条 种猪交付</text></g>
<g id="b3c" class="nd b"><polygon points="543,2363 631,2363 638,2377 631,2391 543,2391 536,2377"/><text x="542" y="2381.5">第三条 付款方式</text></g>
<g id="b3d" class="nd b"><polygon points="543,2515 631,2515 638,2529 631,2543 543,2543 536,2529"/><text x="542" y="2533.5">第四条 售后承诺</text></g>
<g id="b3e" class="nd b"><polygon points="543,2709 631,2709 638,2723 631,2737 543,2737 536,2723"/><text x="542" y="2727.5">第五条 其他约定</text></g>
<g id="b3a1" class="nd b"><polygon points="257,2076 503,2076 503,2092 510,2106 503,2120 503,2136 257,2136 257,2120 250,2106 257,2092"/><text x="256" y="2094.5">甲方提供的本合同约定的嘉兴黑猪父母代种猪<tspan x="256" dy="16">应当优质纯正，符合国家的种猪销售标准，并</tspan><tspan x="256" dy="16">经过了科学免疫程序免疫和严格检疫。</tspan></text></g>
<g id="b3b1" class="nd b"><polygon points="257,2164 503,2164 503,2180 510,2194 503,2208 503,2224 257,2224 257,2208 250,2194 257,2180"/><text x="256" y="2182.5">在本合同有效期内，甲方应向乙方交付的种猪<tspan x="256" dy="16">数量1500头，具体交付数量和交付时间由双</tspan><tspan x="256" dy="16">方另行约定。</tspan></text></g>
<g id="b3b2" class="nd b"><polygon points="257,2252 503,2252 503,2268 510,2282 503,2296 503,2312 257,2312 257,2296 250,2282 257,2268"/><text x="256" y="2270.5">甲方依照本合同约定的交付时间向乙方指定的<tspan x="256" dy="16">地点交付种猪，并提供所有种猪耳号和系谱档</tspan><tspan x="256" dy="16">案。</tspan></text></g>
<g id="b3c1" class="nd b"><polygon points="257,2339 503,2339 503,2363 510,2377 503,2391 503,2415 257,2415 257,2391 250,2377 257,2363"/><text x="256" y="2357.5">双方同意根据种猪市场公允价格进行结算，具<tspan x="256" dy="16">体价格及付款方式由双方代表（甲方代表为潘</tspan><tspan x="256" dy="16">清焜、乙方代表为徐美根）以签署《结算单》</tspan><tspan x="256" dy="16">形式进行结算。</tspan></text></g>
<g id="b3d1" class="nd b"><polygon points="257,2443 503,2443 503,2459 510,2473 503,2487 503,2503 257,2503 257,2487 250,2473 257,2459"/><text x="256" y="2461.5">由于运输等原因致使种猪交付后七日内死亡或<tspan x="256" dy="16">伤残的，甲方承诺包换，病死猪由乙方依照当</tspan><tspan x="256" dy="16">地规定处理，但所获补助归甲方所有。</tspan></text></g>
<g id="b3d2" class="nd b"><polygon points="257,2531 503,2531 503,2571 510,2585 503,2599 503,2639 257,2639 257,2599 250,2585 257,2571"/><text x="256" y="2549.5">对不孕母猪，经过技术人员人工配种两次以上<tspan x="256" dy="16">仍不受孕，乙方不愿饲养的，按母猪市场公允</tspan><tspan x="256" dy="16">价格由甲方回收；乙方愿意饲养的，按当时商</tspan><tspan x="256" dy="16">品猪市场价重新结算。对不能配种的公猪，经</tspan><tspan x="256" dy="16">技术人员鉴定属于种公猪本身原因的，由甲方</tspan><tspan x="256" dy="16">调换相同规格和数量的合格种公猪。</tspan></text></g>
<g id="b3e1" class="nd b"><polygon points="257,2667 503,2667 503,2675 510,2689 503,2703 503,2711 257,2711 257,2703 250,2689 257,2675"/><text x="256" y="2685.5">本合同执行过程中，双方发生争议，由乙方所<tspan x="256" dy="16">在地人民法院解决。</tspan></text></g>
<g id="b3e2" class="nd b"><polygon points="257,2738 503,2738 503,2746 510,2760 503,2774 503,2782 257,2782 257,2774 250,2760 257,2746"/><text x="256" y="2756.5">本合同一式二份，甲、乙双方各执一份，具有<tspan x="256" dy="16">同等法律效力。</tspan></text></g>

<!-- Branch 6 -->
<g id="root6" class="rt"><polygon points="953,3207 1130,3207 1136,3213 1136,3237 1130,3243 953,3243 947,3237 947,3213" fill="#44d08c"/><text x="1041.5" y="3230.5" fill="#07402a">种猪购物合同范本 第6篇</text></g>
<g id="g1" class="nd g"><polygon points="763,2809 916,2809 923,2823 916,2837 763,2837 756,2823"/><text x="762" y="2827.5">甲方:________________</text></g>
<g id="g2" class="nd g"><polygon points="763,2864 916,2864 923,2878 916,2892 763,2892 756,2878"/><text x="762" y="2882.5">乙方:________________</text></g>
<g id="g3" class="nd g"><polygon points="670,3596 916,3596 916,3612 923,3626 916,3640 916,3656 670,3656 670,3640 663,3626 670,3612"/><text x="669" y="3614.5">本着平等互利、共同发展的原则，经双方协商<tspan x="669" dy="16">，现就乙方向甲方购买斯格父母代种猪达成如</tspan><tspan x="669" dy="16">下协议：</tspan></text></g>
<g id="g3a" class="nd g"><polygon points="386,2920 629,2920 629,2952 636,2966 629,2980 629,3012 386,3012 386,2980 379,2966 386,2952"/><text x="385" y="2938.5">风险告知：考察经销商是否合法存在，是否具<tspan x="385" dy="16">有独立法人资格。如果对方是无独立法人资格</tspan><tspan x="385" dy="16">的挂靠单位，或单位产权不清，或是根本不存</tspan><tspan x="385" dy="16">在的虚假单位，最好不要与其合作，以免造成</tspan><tspan x="385" dy="16">不必要的损失。</tspan></text></g>
<g id="g3b" class="nd g"><polygon points="386,3040 629,3040 629,3064 636,3078 629,3092 629,3116 386,3116 386,3092 379,3078 386,3064"/><text x="385" y="3058.5">一、乙方凭县扶贫部门开据的提猪证明信(标<tspan x="385" dy="16">明种猪品种、数量、体重、金额等)到甲方提</tspan><tspan x="385" dy="16">猪，甲方负责免费送猪到村，并提供所有种猪</tspan><tspan x="385" dy="16">耳号和系谱档案。乙方负责分猪到户。</tspan></text></g>
<g id="g3c" class="nd g"><polygon points="522,3195 629,3195 636,3209 629,3223 522,3223 515,3209"/><text x="521" y="3213.5">二、产品品种及数量</text></g>
<g id="g3d" class="nd g"><polygon points="386,3286 629,3286 629,3302 636,3316 629,3330 629,3346 386,3346 386,3330 379,3316 386,3302"/><text x="385" y="3304.5">三、种猪的质量标准：甲方提供的种猪优质纯<tspan x="385" dy="16">正，符合国家的种猪销售标准，并经过了科学</tspan><tspan x="385" dy="16">免疫程序免疫和严格检疫。</tspan></text></g>
<g id="g3e" class="nd g"><polygon points="386,3374 629,3374 629,3398 636,3412 629,3426 629,3450 386,3450 386,3426 379,3412 386,3398"/><text x="385" y="3392.5">四、2006年扶贫项目斯格种猪价格为：父母<tspan x="385" dy="16">代65公斤以上种母猪每头1100元，种公猪11</tspan><tspan x="385" dy="16">0公斤以上达到能够取精配种或直配要求的每</tspan><tspan x="385" dy="16">头6000元。</tspan></text></g>
<g id="g3f" class="nd g"><polygon points="546,3742 629,3742 636,3756 629,3770 546,3770 539,3756"/><text x="545" y="3760.5">五、服务承诺：</text></g>
<g id="g3g" class="nd g"><polygon points="386,4086 629,4086 629,4094 636,4108 629,4122 629,4130 386,4130 386,4122 379,4108 386,4094"/><text x="385" y="4104.5">六、争议处理：合同执行过程中，双方发生争<tspan x="385" dy="16">议，由扶贫部门协调解决。</tspan></text></g>
<g id="g3h" class="nd g"><polygon points="386,4157 629,4157 629,4165 636,4179 629,4193 629,4201 386,4201 386,4193 379,4179 386,4165"/><text x="385" y="4175.5">七、本合同未尽事宜，由甲乙双方与扶贫部门<tspan x="385" dy="16">协商解决。</tspan></text></g>
<g id="g3i" class="nd g"><polygon points="386,4266 629,4266 629,4274 636,4288 629,4302 629,4310 386,4310 386,4302 379,4288 386,4274"/><text x="385" y="4284.5">八、本合同一式叁份，甲、乙双方各执一份，<tspan x="385" dy="16">报县扶贫办一份，具有同等法律效力。</tspan></text></g>
<g id="g3c1" class="nd g"><polygon points="235,3143 481,3143 481,3159 488,3173 481,3187 481,3203 235,3203 235,3187 228,3173 235,3159"/><text x="234" y="3161.5">产品名称______,性别______,公斤______/头,<tspan x="234" dy="16">数量______,单价______,金额______,提货时</tspan><tspan x="234" dy="16">间______,备注______</tspan></text></g>
<g id="g3c2" class="nd g"><polygon points="369,3232 481,3232 488,3246 481,3260 369,3260 362,3246"/><text x="368" y="3250.5">合计____________</text></g>
<g id="g3f1" class="nd g"><polygon points="262,3479 506,3479 506,3495 513,3509 506,3523 506,3539 262,3539 262,3523 255,3509 262,3495"/><text x="261" y="3497.5">1、由于运输等原因，从供猪到户七日内死亡<tspan x="261" dy="16">或有伤残的包换，病死猪由县扶贫办商京安公</tspan><tspan x="261" dy="16">司处理。</tspan></text></g>
<g id="g3f2" class="nd g"><polygon points="262,3566 506,3566 506,3622 513,3636 506,3650 506,3706 262,3706 262,3650 255,3636 262,3622"/><text x="261" y="3584.5">2、对不孕母猪，经过技术人员人工配种两次<tspan x="261" dy="16">以上，仍不受孕的，按每公斤元由京安分公司</tspan><tspan x="261" dy="16">回收。继续养猪的，农户按当时商品猪市场价</tspan><tspan x="261" dy="16">交款，购回一头60公斤同品种母猪;不愿继续</tspan><tspan x="261" dy="16">养猪的，周转到期时每头偿还300元。对不能</tspan><tspan x="261" dy="16">配种的公猪，在供猪到户半月内，经技术人员</tspan><tspan x="261" dy="16">签定，由于种公猪本身原因的，由京安分公司</tspan><tspan x="261" dy="16">调换一头110公斤以上的合格的种公猪。</tspan></text></g>
<g id="g3f3" class="nd g"><polygon points="262,3746 506,3746 506,3762 513,3776 506,3790 506,3806 262,3806 262,3790 255,3776 262,3762"/><text x="261" y="3764.5">3、负责为养殖户提供不同品种、不同阶段的<tspan x="261" dy="16">饲料配方。对饲养户使用本公司4%预混料的</tspan><tspan x="261" dy="16">按对本公司内部价供应。</tspan></text></g>
<g id="g3f4" class="nd g"><polygon points="262,3846 506,3846 506,3870 513,3884 506,3898 506,3922 262,3922 262,3898 255,3884 262,3870"/><text x="261" y="3864.5">4、负责组织有实践经验的技术人员，建立技<tspan x="261" dy="16">术服务巡回小分队。按300头种母猪配备一名</tspan><tspan x="261" dy="16">包村技术人员，服务期限一年。对包村技术人</tspan><tspan x="261" dy="16">员、村技术人员和养殖示范户进行系统培训。</tspan></text></g>
<g id="g3f5" class="nd g"><polygon points="262,3949 506,3949 506,3989 513,4003 506,4017 506,4057 262,4057 262,4017 255,4003 262,3989"/><text x="261" y="3967.5">5、搞好统一防疫和配种服务。种母猪从供猪<tspan x="261" dy="16">到户开始到第二窝产仔，种公猪从公猪到户一</tspan><tspan x="261" dy="16">年内，第一窝仔猪从出生到育肥出栏实行免费</tspan><tspan x="261" dy="16">供应疫苗，统一防疫。对养殖户种母猪第一次</tspan><tspan x="261" dy="16">受孕采取免费配种，以后配种实行市场运作、</tspan><tspan x="261" dy="16">费用自负。</tspan></text></g>
<g id="g3f3a" class="nd g"><polygon points="188,3734 221,3734 228,3748 221,3762 188,3762 181,3748"/><text x="187" y="3752.5">第1页</text></g>
<g id="g3f3b" class="nd g"><polygon points="61,3789 221,3789 228,3803 221,3817 61,3817 54,3803"/><text x="60" y="3807.5">种猪购销合同范本【标准版】</text></g>
<g id="g3i1" class="nd g"><polygon points="87,4229 344,4229 344,4237 351,4251 344,4265 344,4273 87,4273 87,4265 80,4251 87,4237"/><text x="86" y="4247.5">甲方(签字盖章)： ___________ 乙方(签字盖<tspan x="86" dy="16">章)： ___________</tspan></text></g>
<g id="g3i2" class="nd g"><polygon points="87,4301 344,4301 344,4309 351,4323 344,4337 344,4345 87,4345 87,4337 80,4323 87,4309"/><text x="86" y="4319.5">_____年_____月_____日 _____年_____<tspan x="86" dy="16">月_____日</tspan></text></g>
</g>
</svg>
